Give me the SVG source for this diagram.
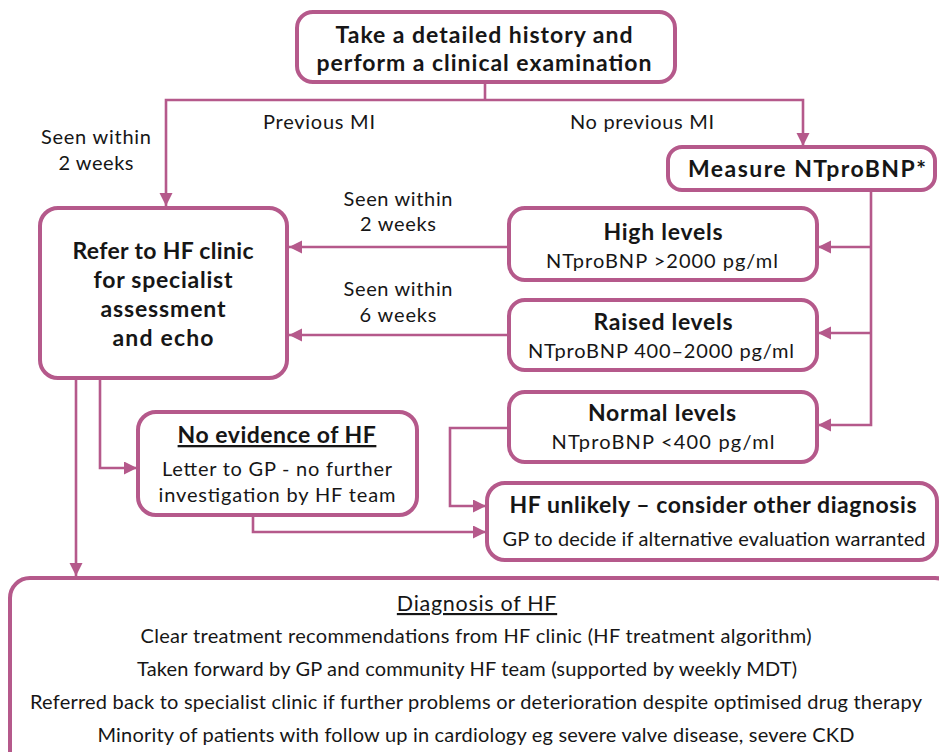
<svg xmlns="http://www.w3.org/2000/svg" width="939" height="752" viewBox="0 0 939 752">
<style>
.box{fill:#fff;stroke:#b5598b;stroke-width:4}
.con{fill:none;stroke:#b5598b;stroke-width:2.6}
text{font-family:Lato,"Liberation Sans",sans-serif;fill:#161616;text-anchor:middle}
.b{font-weight:bold;font-size:23px}
.r{font-size:20px}
.s{font-size:20px}
</style>
<defs>
<marker id="ah" markerUnits="userSpaceOnUse" markerWidth="14" markerHeight="14" refX="13" refY="6.5" orient="auto">
<path d="M0,0 L13,6.5 L0,13 z" fill="#b5598b"/>
</marker>
</defs>
<rect width="939" height="752" fill="#fff"/>
<g id="connectors">
<path class="con" d="M485,83 V100"/>
<path class="con" d="M485,100 H166 V206" marker-end="url(#ah)"/>
<path class="con" d="M485,100 H803 V146" marker-end="url(#ah)"/>
<path class="con" d="M871,190 V425 H818" marker-end="url(#ah)"/>
<path class="con" d="M871,247 H818" marker-end="url(#ah)"/>
<path class="con" d="M871,333 H818" marker-end="url(#ah)"/>
<path class="con" d="M509,247 H289" marker-end="url(#ah)"/>
<path class="con" d="M509,335 H289" marker-end="url(#ah)"/>
<path class="con" d="M76,378 V576" marker-end="url(#ah)"/>
<path class="con" d="M100,378 V468 H137" marker-end="url(#ah)"/>
<path class="con" d="M253,515 V532 H486" marker-end="url(#ah)"/>
<path class="con" d="M509,428 H450 V506 H486" marker-end="url(#ah)"/>
<text class="r" x="319" y="129" textLength="112">Previous MI</text>
<text class="r" x="642" y="129" textLength="144">No previous MI</text>
<text class="r" x="96" y="144" textLength="110">Seen within</text>
<text class="r" x="96" y="170" textLength="75">2 weeks</text>
<text class="r" x="398" y="206" textLength="109">Seen within</text>
<text class="r" x="398" y="231" textLength="76">2 weeks</text>
<text class="r" x="398" y="296" textLength="109">Seen within</text>
<text class="r" x="398" y="322" textLength="77">6 weeks</text>
</g>
<g id="history">
<rect class="box" x="297" y="12" width="378" height="70" rx="16"/>
<text class="b" x="484" y="43" textLength="297">Take a detailed history and</text>
<text class="b" x="484" y="71" textLength="335">perform a clinical examination</text>
</g>
<g id="measure">
<rect class="box" x="668" y="147" width="267" height="43" rx="14"/>
<text class="b" x="807" y="177" textLength="238">Measure NTproBNP*</text>
</g>
<g id="refer">
<rect class="box" x="40" y="208" width="247" height="170" rx="18"/>
<text class="b" x="163" y="259" textLength="181">Refer to HF clinic</text>
<text class="b" x="163" y="288" textLength="139">for specialist</text>
<text class="b" x="163" y="317" textLength="125">assessment</text>
<text class="b" x="163" y="346" textLength="101">and echo</text>
</g>
<g id="high">
<rect class="box" x="509" y="208" width="308" height="72" rx="16"/>
<text class="b" x="663" y="240" textLength="119">High levels</text>
<text class="r" x="662" y="268" textLength="232">NTproBNP &gt;2000 pg/ml</text>
</g>
<g id="raised">
<rect class="box" x="509" y="300" width="308" height="70" rx="16"/>
<text class="b" x="663" y="330" textLength="139">Raised levels</text>
<text class="r" x="661" y="358" textLength="266">NTproBNP 400–2000 pg/ml</text>
</g>
<g id="normal">
<rect class="box" x="509" y="392" width="308" height="70" rx="16"/>
<text class="b" x="662" y="421" textLength="148">Normal levels</text>
<text class="r" x="663" y="449" textLength="223">NTproBNP &lt;400 pg/ml</text>
</g>
<g id="noevidence">
<rect class="box" x="138" y="412" width="279" height="103" rx="18"/>
<text class="b" x="277" y="443" text-decoration="underline" style="letter-spacing:0.5px">No evidence of HF</text>
<text class="r" x="277" y="476" textLength="230">Letter to GP - no further</text>
<text class="r" x="277" y="502" textLength="237">investigation by HF team</text>
</g>
<g id="unlikely">
<rect class="box" x="487" y="483" width="450" height="77" rx="18"/>
<text class="b" x="713" y="513" textLength="407">HF unlikely – consider other diagnosis</text>
<text class="r" x="714" y="546" textLength="423">GP to decide if alternative evaluation warranted</text>
</g>
<g id="diagnosis">
<rect class="box" x="10" y="578" width="945" height="200" rx="20"/>
<text class="s" x="477" y="611" text-decoration="underline" style="font-size:21.5px;letter-spacing:0.7px">Diagnosis of HF</text>
<text class="s" x="476" y="643" textLength="671">Clear treatment recommendations from HF clinic (HF treatment algorithm)</text>
<text class="s" x="467" y="676" textLength="660">Taken forward by GP and community HF team (supported by weekly MDT)</text>
<text class="s" x="476" y="709" textLength="892">Referred back to specialist clinic if further problems or deterioration despite optimised drug therapy</text>
<text class="s" x="476" y="742" textLength="757">Minority of patients with follow up in cardiology eg severe valve disease, severe CKD</text>
</g>
</svg>
